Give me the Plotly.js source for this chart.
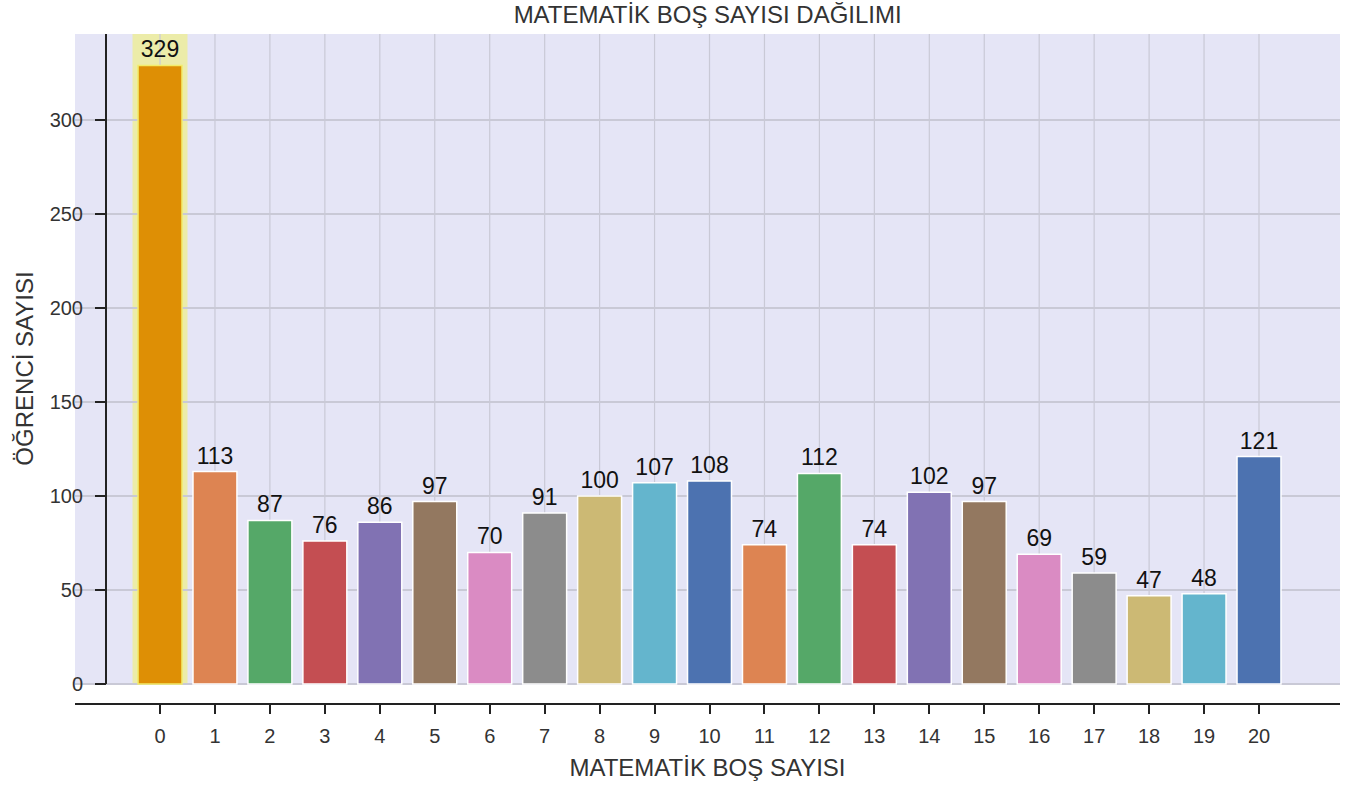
<!DOCTYPE html>
<html>
<head>
<meta charset="utf-8">
<script src="https://cdn.plot.ly/plotly-3.0.1.min.js"></script>
<style>html,body{margin:0;padding:0;background:#fff;}#chart{width:1357px;height:789px;}</style>
</head>
<body>
<div id="chart"></div>
<script>
const categories = ['0','1','2','3','4','5','6','7','8','9','10','11','12','13','14','15','16','17','18','19','20'];
const counts = [329,113,87,76,86,97,70,91,100,107,108,74,112,74,102,97,69,59,47,48,121];
const palette = ['#4C72B0','#DD8452','#55A868','#C44E52','#8172B3','#937860','#DA8BC3','#8C8C8C','#CCB974','#64B5CD'];
const highlightIndex = 0;
const highlightColor = '#DE8F05';
const yTicks = [0,50,100,150,200,250,300];

const xNum = categories.map(Number);
const colors = xNum.map((v,i) => i === highlightIndex ? highlightColor : palette[i % palette.length]);
const lineColors = xNum.map((v,i) => i === highlightIndex ? '#f2ec6a' : '#ffffff');

const Y_TOP = 345.7, Y_BOT = -10.1;
const X_LEFT = -1.547, X_RIGHT = 21.474;

const shapes = [];
shapes.push({type:'rect', xref:'paper', yref:'y', x0:0, x1:1, y0:0, y1:Y_TOP, fillcolor:'#e5e5f6', line:{width:0}, layer:'below'});
shapes.push({type:'rect', xref:'x', yref:'y', x0:xNum[highlightIndex]-0.5, x1:xNum[highlightIndex]+0.5, y0:0, y1:Y_TOP, fillcolor:'#ececa9', line:{width:0}, layer:'below'});
xNum.forEach(v => shapes.push({type:'line', xref:'x', yref:'y', x0:v, x1:v, y0:0, y1:Y_TOP, line:{color:'#c9c9d6', width:1.2}, layer:'below'}));
const yPos = (106-75)/1265;
shapes.push({type:'line', xref:'paper', yref:'y', x0:yPos, x1:yPos, y0:0, y1:Y_TOP, line:{color:'#222', width:2}, layer:'above'});

const trace = {
  type:'bar',
  x: xNum,
  y: counts,
  width: 0.8,
  marker:{color: colors, line:{color: lineColors, width:1.5}},
  text: counts.map(String),
  textposition:'outside',
  constraintext:'none',
  textfont:{family:'Liberation Sans, Arial, sans-serif', size:23, color:'#111'},
  cliponaxis:false,
  hoverinfo:'x+y'
};

const layout = {
  width:1357, height:789,
  margin:{l:75, r:17, t:34, b:86},
  paper_bgcolor:'#ffffff',
  plot_bgcolor:'rgba(0,0,0,0)',
  font:{family:'Liberation Sans, Arial, sans-serif', color:'#333'},
  showlegend:false,
  title:{text:'MATEMATİK BOŞ SAYISI DAĞILIMI', x:0.5215, xref:'container', xanchor:'center', y:1-15/789, yref:'container', yanchor:'middle', font:{size:24, color:'#333'}},
  xaxis:{
    range:[X_LEFT, X_RIGHT],
    tickmode:'array', tickvals:xNum, ticktext:categories,
    showgrid:false, zeroline:false,
    showline:true, linecolor:'#222', linewidth:2,
    ticks:'outside', ticklen:9, tickwidth:2, tickcolor:'#222',
    ticklabelstandoff:5,
    tickfont:{size:20, color:'#333'},
    title:{text:'MATEMATİK BOŞ SAYISI', font:{size:24, color:'#333'}, standoff:13}
  },
  yaxis:{
    range:[Y_BOT, Y_TOP],
    anchor:'free', position:yPos,
    tickmode:'array', tickvals:yTicks, ticktext:yTicks.map(String),
    showgrid:true, gridcolor:'#c9c9d6', gridwidth:1.2,
    zeroline:false, showline:false,
    ticks:'outside', ticklen:11, tickwidth:2, tickcolor:'#222',
    ticklabelstandoff:8,
    tickfont:{size:20, color:'#333'},
    title:{text:'ÖĞRENCİ SAYISI', font:{size:24, color:'#333'}, standoff:8}
  },
  shapes: shapes,
  bargap:0.2
};

Plotly.newPlot('chart', [trace], layout, {displayModeBar:false, staticPlot:true});
</script>
</body>
</html>
